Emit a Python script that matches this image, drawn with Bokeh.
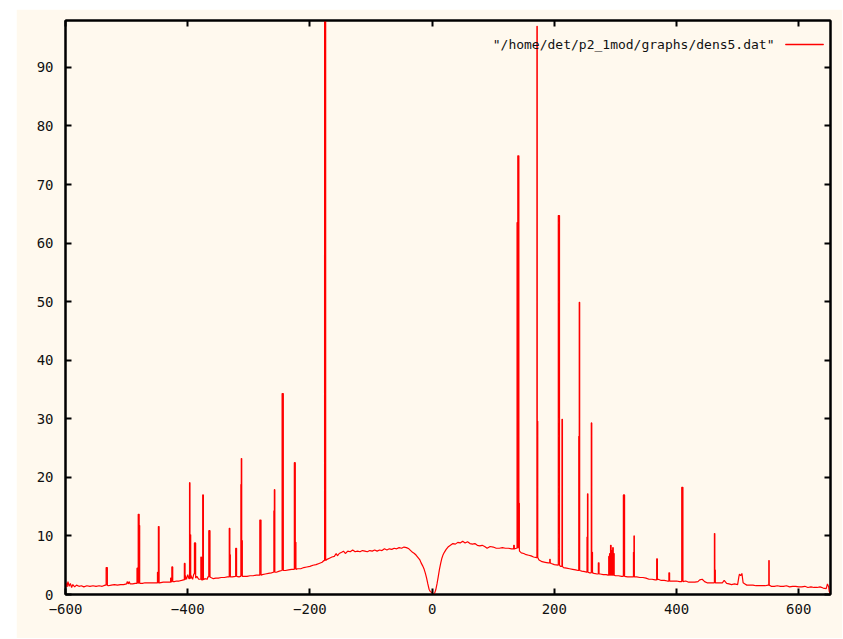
import numpy as np
from bokeh.plotting import figure
from bokeh.models import LinearAxis, FixedTicker, Label, BoxAnnotation, Range1d
from bokeh.embed import file_html
from bokeh.resources import INLINE

# ---------------- data ----------------
x_ticks = [-600, -400, -200, 0, 200, 400, 600]
y_ticks = [0, 10, 20, 30, 40, 50, 60, 70, 80, 90]
x_limits = (-600, 652)
y_limits = (0, 98)
series_label = '"/home/det/p2_1mod/graphs/dens5.dat"'

# baseline of the density curve (x, y)
base_left = [
    (-600, 1.2), (-599, 2.0), (-597.5, 1.3), (-596, 2.2), (-594, 1.4), (-592, 1.9),
    (-590, 1.2), (-588, 1.7), (-585, 1.3), (-582, 1.6), (-578, 1.4), (-574, 1.5),
    (-570, 1.3), (-565, 1.5), (-560, 1.4), (-555, 1.5), (-550, 1.4), (-545, 1.5),
    (-540, 1.4), (-535, 1.6), (-530, 1.5), (-525, 1.6), (-520, 1.7), (-515, 1.6),
    (-510, 1.7), (-505, 1.7), (-500, 1.8), (-499, 2.2), (-497, 1.8), (-496, 2.2),
    (-494, 1.8), (-490, 1.8), (-486, 1.9), (-484, 1.9), (-478, 1.9), (-474, 1.9),
    (-470, 2.0), (-465, 2.0), (-460, 2.0), (-455, 2.0), (-451, 2.0), (-446, 2.0),
    (-440, 2.1), (-435, 2.1), (-430, 2.1), (-427, 2.2), (-422, 2.2), (-418, 2.3),
    (-414, 2.3), (-410, 2.4), (-407, 2.5), (-404, 3.2), (-402, 2.6), (-400, 3.4),
    (-398, 2.7), (-395, 3.3), (-392, 2.6), (-390, 3.5), (-387, 2.8), (-385, 3.1),
    (-382, 2.6), (-379, 2.6), (-377, 2.5), (-372, 2.7), (-368, 2.6), (-367, 3.0),
    (-362, 2.9), (-358, 2.7), (-354, 2.8), (-350, 2.8), (-345, 2.9), (-340, 2.9),
    (-335, 3.0), (-333, 3.0), (-327, 3.0), (-322, 3.1), (-316, 3.0), (-314, 3.1),
    (-308, 3.1), (-303, 3.1), (-298, 3.2), (-293, 3.2), (-288, 3.3), (-283, 3.3),
    (-278, 3.4), (-273, 3.5), (-268, 3.6), (-263, 3.7), (-260, 3.8), (-255, 3.8),
    (-250, 4.0), (-246, 4.1), (-240, 4.1), (-235, 4.2), (-230, 4.3), (-226, 4.3),
    (-220, 4.4), (-215, 4.4), (-210, 4.6), (-205, 4.7), (-200, 4.8), (-195, 5.0),
    (-190, 5.1), (-185, 5.3), (-180, 5.5), (-177, 5.8), (-172, 6.0), (-168, 6.2),
    (-164, 6.4), (-160, 6.5), (-157, 7.0), (-155, 6.6), (-152, 7.0), (-148, 7.2),
    (-145, 7.4), (-142, 7.0), (-138, 7.4), (-134, 7.3), (-130, 7.6), (-126, 7.3),
    (-122, 7.4), (-118, 7.3), (-114, 7.5), (-110, 7.4), (-106, 7.3), (-102, 7.5),
    (-98, 7.4), (-94, 7.6), (-90, 7.4), (-86, 7.6), (-82, 7.5), (-78, 7.8),
    (-74, 7.6), (-70, 7.8), (-66, 7.7), (-62, 7.9), (-58, 7.8), (-54, 8.0),
    (-50, 7.9), (-46, 8.1), (-42, 8.0), (-38, 7.8), (-35, 7.5), (-32, 7.2),
]
base_center = [
    (-29, 7.0), (-26, 6.7), (-23, 6.3), (-20, 5.9), (-18, 5.4), (-15, 4.8),
    (-13, 4.3), (-11, 3.6), (-9, 2.8), (-7, 1.8), (-5, 0.9), (-3, 0.5),
    (0, 0.3), (2, 0.0), (4, 0.2), (6, 0.8), (8, 1.8), (10, 3.0), (12, 4.3),
    (14, 5.3), (16, 6.2), (18, 6.8), (20, 7.2), (23, 7.7), (26, 8.1), (30, 8.4),
    (34, 8.7), (38, 8.6), (42, 8.9), (46, 8.8), (50, 9.1), (54, 8.8), (58, 9.0),
    (62, 8.7), (66, 8.6), (70, 8.7), (74, 8.4), (78, 8.3), (82, 8.4), (86, 8.2),
    (90, 7.9), (95, 8.2), (100, 8.1), (105, 7.9), (110, 7.9), (115, 8.0),
    (120, 7.9), (125, 7.9), (130, 7.8),
]
base_right = [
    (133, 7.8), (138, 7.9), (143, 7.4), (146, 7.1), (150, 7.0), (154, 6.8),
    (158, 6.7), (162, 6.6), (166, 6.4), (171, 6.3), (175, 5.9), (180, 5.6),
    (185, 5.5), (190, 5.4), (195, 5.3), (200, 5.1), (206, 5.0), (210, 4.8),
    (215, 4.6), (220, 4.5), (225, 4.4), (230, 4.3), (235, 4.2), (239, 4.1),
    (245, 4.0), (250, 3.9), (253, 3.8), (258, 3.7), (260, 3.7), (265, 3.6),
    (270, 3.5), (275, 3.5), (280, 3.4), (285, 3.4), (288, 3.3), (300, 3.2),
    (305, 3.2), (310, 3.1), (313, 3.1), (320, 3.0), (325, 3.0), (329, 3.0),
    (335, 3.0), (340, 2.9), (345, 2.9), (350, 2.8), (355, 2.6), (360, 2.6),
    (365, 2.5), (370, 2.6), (375, 2.4), (380, 2.4), (385, 2.3), (390, 2.3),
    (395, 2.3), (400, 2.3), (405, 2.2), (408, 2.2), (415, 2.3), (420, 2.1),
    (425, 2.1), (430, 2.1), (435, 2.2), (438, 2.5), (442, 2.6), (446, 2.2),
    (450, 2.0), (455, 2.0), (460, 2.0), (465, 2.0), (470, 2.0), (475, 2.0),
    (478, 2.4), (482, 1.9), (486, 1.8), (490, 1.7), (495, 1.8), (500, 1.7),
    (502, 3.0), (503, 3.5), (505, 3.2), (507, 3.6), (509, 2.0), (512, 1.8),
    (515, 1.6), (520, 1.6), (525, 1.6), (530, 1.5), (535, 1.5), (540, 1.5),
    (545, 1.5), (550, 1.6), (555, 1.4), (560, 1.4), (565, 1.5), (570, 1.4),
    (575, 1.4), (580, 1.5), (585, 1.3), (590, 1.4), (595, 1.4), (600, 1.3),
    (605, 1.3), (610, 1.4), (615, 1.2), (620, 1.3), (625, 1.2), (630, 1.2),
    (635, 1.3), (640, 1.1), (645, 1.0), (647, 1.8), (649, 1.3), (650, 0.5),
    (652, 0.0),
]

# narrow peaks (x, peak height, width in x units)
spikes_left = [
    (-533.5, 4.6, 2.0),
    (-483, 4.5, 1.8), (-481, 13.7, 1.6), (-479.4, 11.8, 0.8),
    (-449.5, 3.8, 1.2), (-448, 11.6, 1.2),
    (-428, 2.8, 1.5), (-426, 4.7, 1.5),
    (-405.5, 5.3, 1.2),
    (-397, 19.1, 0.7), (-396.3, 10.2, 1.2),
    (-389, 8.8, 2.0),
    (-378.5, 6.4, 1.0), (-375.5, 17.0, 1.2),
    (-365.5, 10.9, 2.0),
    (-332, 11.3, 1.0), (-331.0, 6.8, 0.8),
    (-321.5, 7.9, 1.5),
    (-313, 18.8, 0.7), (-312.3, 23.2, 0.7), (-311.6, 9.2, 1.0),
    (-282, 12.7, 2.0),
    (-259, 14.3, 0.8), (-258.2, 17.9, 0.8),
    (-245.5, 34.3, 2.0),
    (-225.5, 22.5, 1.6), (-223.9, 8.9, 1.0),
    (-176.0, 150.0, 1.8),
]
spikes_right = [
    (133.5, 8.4, 1.0),
    (139.0, 63.5, 1.2), (140.2, 74.9, 1.8), (142.0, 15.6, 0.8),
    (171.5, 97.0, 0.6), (172.1, 29.6, 0.8),
    (192.5, 6.0, 0.8),
    (206.5, 64.7, 2.0), (212.5, 29.9, 0.8),
    (240.0, 27.0, 0.8), (240.8, 49.9, 0.7),
    (253.5, 9.8, 0.8), (254.3, 17.2, 0.7),
    (260.5, 29.3, 0.8), (261.3, 7.2, 1.2),
    (272.0, 5.4, 1.2),
    (289.0, 6.5, 1.0), (290.5, 7.0, 1.0), (292.0, 8.4, 1.0),
    (293.5, 7.5, 1.0), (295.5, 8.0, 1.0), (297.0, 7.0, 1.0),
    (313.0, 17.0, 2.0),
    (329.5, 7.2, 0.8), (330.3, 10.0, 0.7),
    (367.5, 6.1, 1.2),
    (387.5, 3.7, 1.2),
    (408.5, 18.3, 2.0),
    (462.0, 10.4, 0.7), (462.7, 4.2, 0.8),
    (551.0, 5.8, 0.7),
]


def build_trace(base, spikes):
    pts = []
    sp = sorted(spikes)
    i = 0
    for k, (bx, by) in enumerate(base):
        pts.append((bx, by))
        nx = base[k + 1][0] if k + 1 < len(base) else float("inf")
        while i < len(sp) and sp[i][0] < nx:
            sx, peak, w = sp[i]
            pts += [(sx, by), (sx, peak), (sx + w, peak), (sx + w, by)]
            i += 1
    return pts


trace = build_trace(base_left, spikes_left) + build_trace(base_center, []) + build_trace(base_right, spikes_right)
tx = [p[0] for p in trace]
ty = [p[1] for p in trace]

# ---------------- styling ----------------
CREAM = "#fff9ee"
FONT = "DejaVu Sans Mono"

p = figure(
    frame_width=765, frame_height=574,
    x_range=Range1d(*x_limits), y_range=Range1d(*y_limits),
    output_backend="svg", toolbar_location=None,
    x_axis_location=None, y_axis_location=None,
    background_fill_color=CREAM, border_fill_color=CREAM,
    min_border_left=49, min_border_right=12, min_border_top=11, min_border_bottom=44,
)
p.margin = (9, 0, 0, 16)
p.grid.visible = False
p.outline_line_color = "black"
p.outline_line_width = 2

p.line(tx, ty, line_color="#ff0000", line_width=1.2)


def make_axis(ticks, show_labels, standoff):
    ax = LinearAxis(ticker=FixedTicker(ticks=ticks))
    ax.axis_line_color = "black"
    ax.axis_line_width = 2
    ax.major_tick_line_color = "black"
    ax.major_tick_line_width = 2
    ax.major_tick_in = 6
    ax.major_tick_out = 0
    ax.minor_tick_line_color = None
    ax.major_label_text_font = FONT
    ax.major_label_text_font_size = "14px"
    ax.major_label_text_color = "#111111"
    ax.major_label_standoff = standoff
    if not show_labels:
        ax.major_label_overrides = {t: "" for t in ticks}
        ax.major_label_standoff = 0
    return ax


p.add_layout(make_axis(x_ticks, True, 9), "below")
p.add_layout(make_axis(y_ticks, True, 12), "left")
p.add_layout(make_axis(x_ticks, False, 0), "above")
p.add_layout(make_axis(y_ticks, False, 0), "right")

# key (text followed by a line sample, top right); screen units are frame-relative
p.add_layout(Label(x=709, y=550, x_units="screen", y_units="screen", text=series_label,
                   text_font=FONT, text_font_size="13px", text_color="#111111",
                   text_align="right", text_baseline="middle"))
p.add_layout(BoxAnnotation(left=720, right=758, top=550.5, bottom=549.5,
                           left_units="screen", right_units="screen",
                           top_units="screen", bottom_units="screen",
                           fill_color="#ff0000", fill_alpha=1.0, line_color="#ff0000",
                           line_width=0.5, line_alpha=1.0))

open("out.html", "w").write(file_html(p, INLINE))
